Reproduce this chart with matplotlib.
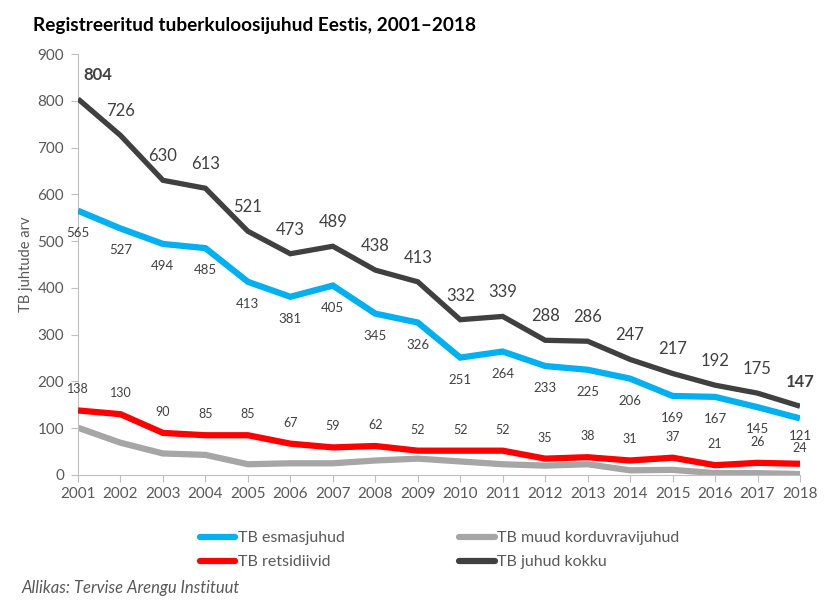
import matplotlib
matplotlib.use("Agg")
import matplotlib.pyplot as plt
from matplotlib.lines import Line2D

plt.rcParams['font.family'] = ['Lato', 'DejaVu Sans']

years = list(range(2001, 2019))
esmasjuhud = [565, 527, 494, 485, 413, 381, 405, 345, 326, 251, 264, 233, 225, 206, 169, 167, 145, 121]
retsidiivid = [138, 130, 90, 85, 85, 67, 59, 62, 52, 52, 52, 35, 38, 31, 37, 21, 26, 24]
muud = [101, 69, 46, 43, 23, 25, 25, 31, 35, 29, 23, 20, 23, 10, 11, 4, 4, 2]
kokku = [804, 726, 630, 613, 521, 473, 489, 438, 413, 332, 339, 288, 286, 247, 217, 192, 175, 147]
yticks = [0, 100, 200, 300, 400, 500, 600, 700, 800, 900]

C_BLUE = '#00B0F0'
C_RED = '#FF0000'
C_GREY = '#A6A6A6'
C_DARK = '#404040'
C_TXT = '#595959'

fig = plt.figure(figsize=(8.33, 6.04), dpi=100)
ax = fig.add_axes([78/833, 1-475/604, (800-78)/833, (475-54)/604])

ax.plot(years, muud, color=C_GREY, lw=4.5, solid_capstyle='butt', solid_joinstyle='miter', zorder=2)
ax.plot(years, retsidiivid, color=C_RED, lw=4.5, solid_capstyle='butt', solid_joinstyle='miter', zorder=3)
ax.plot(years, esmasjuhud, color=C_BLUE, lw=4.5, solid_capstyle='butt', solid_joinstyle='miter', zorder=4)
ax.plot(years, kokku, color=C_DARK, lw=3.8, solid_capstyle='butt', solid_joinstyle='miter', zorder=5)

px = 72/100.0  # points per pixel
n = len(years)
for i, (x, v) in enumerate(zip(years, kokku)):
    bold = (i == 0 or i == n-1)
    dx = 20 if i == 0 else 0
    ax.annotate(str(v), (x, v), xytext=(dx*px, 24*px), textcoords='offset points',
                ha='center', va='center', fontsize=12, color=C_DARK,
                fontweight='bold' if bold else 'normal', annotation_clip=False, zorder=6)
for i, (x, v) in enumerate(zip(years, esmasjuhud)):
    dy = 18 if i == n-1 else 22
    ax.annotate(str(v), (x, v), xytext=(0, -dy*px), textcoords='offset points',
                ha='center', va='center', fontsize=9.5, color=C_DARK, annotation_clip=False, zorder=6)
for i, (x, v) in enumerate(zip(years, retsidiivid)):
    dy = 16 if i == n-1 else 21
    ax.annotate(str(v), (x, v), xytext=(0, dy*px), textcoords='offset points',
                ha='center', va='center', fontsize=9, color=C_DARK, annotation_clip=False, zorder=6)

ax.set_xlim(2001, 2018)
ax.set_ylim(0, 900)
ax.set_xticks(years)
ax.set_xticklabels([str(y) for y in years])
ax.set_yticks(yticks)
ax.tick_params(axis='both', colors='#BFBFBF', labelcolor=C_TXT, labelsize=11, length=5, width=0.8, direction='out')
ax.tick_params(axis='x', pad=4)
ax.tick_params(axis='y', pad=5)
for s in ['top', 'right']:
    ax.spines[s].set_visible(False)
for s in ['left', 'bottom']:
    ax.spines[s].set_color('#BFBFBF')
    ax.spines[s].set_linewidth(0.8)
ax.set_ylabel('TB juhtude arv', fontsize=10.5, color=C_TXT, labelpad=3)

fig.text(33/833, 1-25/604, 'Registreeritud tuberkuloosijuhud Eestis, 2001–2018',
         fontsize=13.7, fontweight='bold', color='black', ha='left', va='center')

handles = [Line2D([], [], color=C_BLUE, lw=4.5, solid_capstyle='round'),
           Line2D([], [], color=C_RED, lw=4.5, solid_capstyle='round'),
           Line2D([], [], color=C_GREY, lw=4.5, solid_capstyle='round'),
           Line2D([], [], color=C_DARK, lw=4.5, solid_capstyle='round')]
labels = ['TB esmasjuhud', 'TB retsidiivid', 'TB muud korduvravijuhud', 'TB juhud kokku']
leg = fig.legend(handles, labels, ncol=2, loc='upper left', bbox_to_anchor=(200/833, 1-531/604),
                 frameon=False, fontsize=11.5, handlelength=2.2, handletextpad=0.15,
                 columnspacing=7.2, labelspacing=0.62, borderaxespad=0, borderpad=0)
for t in leg.get_texts():
    t.set_color(C_TXT)

fig.text(22/833, 1-588/604, 'Allikas: Tervise Arengu Instituut', fontsize=12, style='italic',
         color=C_TXT, ha='left', va='center')

fig.savefig('out.png', dpi=100)
